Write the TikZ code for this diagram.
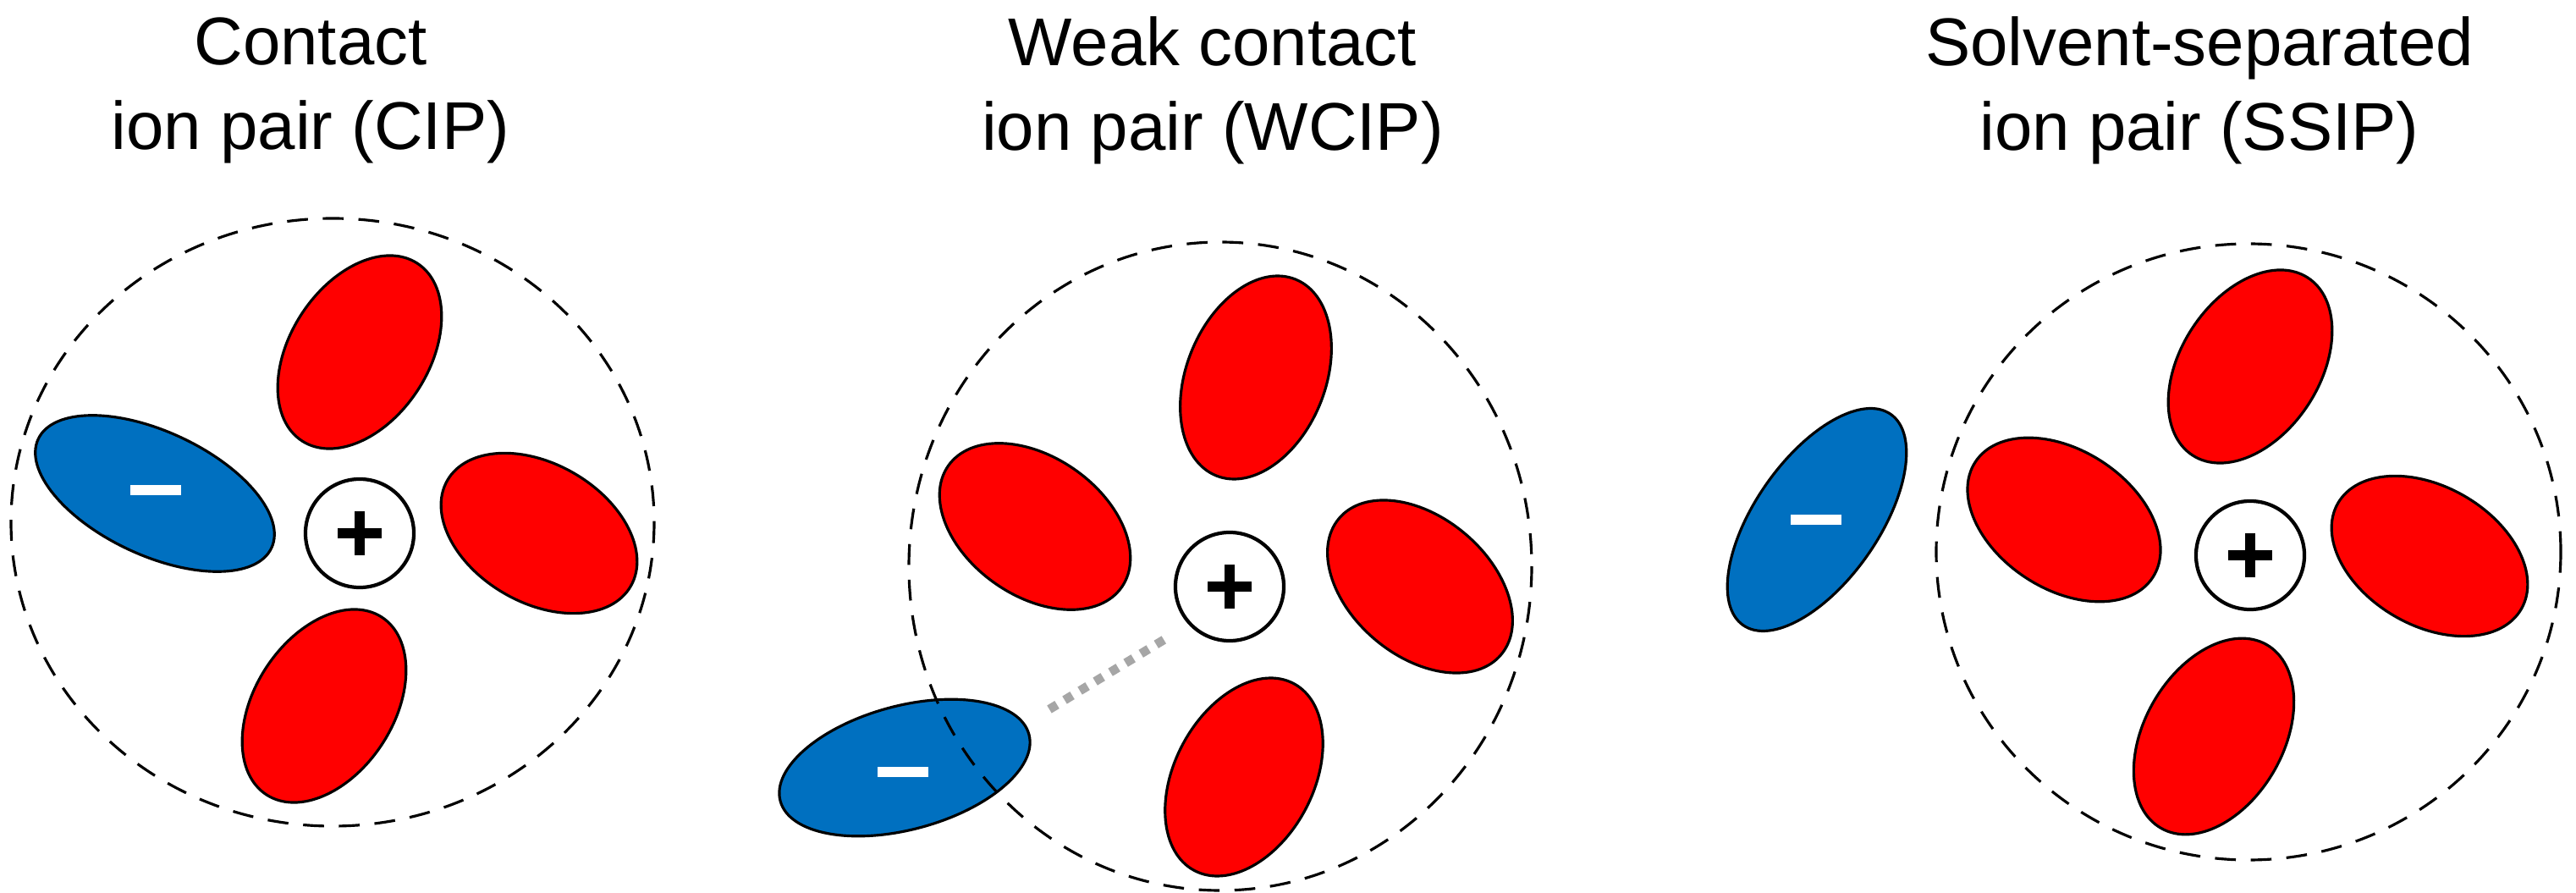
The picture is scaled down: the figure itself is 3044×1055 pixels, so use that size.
\documentclass[tikz,border=0pt]{standalone}
\usepackage{fontspec}
\setmainfont{Liberation Sans}
\usetikzlibrary{shapes.geometric}
\definecolor{solv}{HTML}{FF0000}
\definecolor{anion}{HTML}{0070C0}
\begin{document}
\begin{tikzpicture}[x=0.01cm,y=-0.01cm,
  solvent/.style={ellipse,draw=black,line width=0.9pt,fill=solv,minimum width=2.5cm,minimum height=1.64cm,inner sep=0pt},
  an/.style={ellipse,draw=black,line width=0.9pt,fill=anion,minimum width=3.04cm,minimum height=1.46cm,inner sep=0pt},
  shell/.style={dashed,dash pattern=on 7pt off 5pt,line width=0.9pt},
  cat/.style={circle,draw=black,line width=1.2pt,fill=white,minimum size=1.28cm,inner sep=0pt},
  plus/.style={line width=3.6pt},
  title/.style={align=center,font=\fontsize{22.7pt}{28.5pt}\selectfont},
  minus/.style={fill=white,draw=none,minimum width=0.6cm,minimum height=0.12cm,inner sep=0pt}]
\useasboundingbox (0,0) rectangle (3044,1055);
% Panel 1
\node[title] (t1) at (367,107) {Contact\\ion pair (CIP)};
\draw[shell] (393,617) ellipse [x radius=380, y radius=359];
\node[solvent,rotate=57] (s1a) at (425,416) {};
\node[solvent,rotate=-30] (s1b) at (637,630) {};
\node[solvent,rotate=57] (s1c) at (383,834) {};
\node[an,rotate=-25] (a1) at (183,583) {};
\node[minus] (m1) at (184,579) {};
\node[cat] (c1) at (425,630) {};
\draw[plus] (c1.center) +(-26,0) -- +(26,0) +(0,-26) -- +(0,26);
% Panel 2
\node[title] (t2) at (1433,107) {Weak contact\\ion pair (WCIP)};
\node[solvent,rotate=68] (s2a) at (1484,446) {};
\node[solvent,rotate=-35] (s2b) at (1223,622) {};
\node[solvent,rotate=-40] (s2c) at (1678,693) {};
\node[solvent,rotate=62] (s2d) at (1470,918) {};
\node[an,rotate=15] (a2) at (1069,907) {};
\node[minus] (m2) at (1067,912) {};
\draw[shell] (1442,669) ellipse [x radius=368, y radius=383];
\node[cat] (c2) at (1453,693) {};
\draw[plus] (c2.center) +(-26,0) -- +(26,0) +(0,-26) -- +(0,26);
\coordinate (d1) at (1240,838);
\coordinate (d2) at (1380,753);
\draw[gray!70,line width=3pt,dash pattern=on 3pt off 3pt] (d1) -- (d2);
% Panel 3
\node[title] (t3) at (2599,107) {Solvent-separated\\ion pair (SSIP)};
\draw[shell] (2657,652) ellipse [x radius=369, y radius=364];
\node[solvent,rotate=57] (s3a) at (2659,433) {};
\node[solvent,rotate=-33] (s3b) at (2439,614) {};
\node[solvent,rotate=-30] (s3c) at (2871,657) {};
\node[solvent,rotate=60] (s3d) at (2616,870) {};
\node[an,rotate=55] (a3) at (2147,614) {};
\node[minus] (m3) at (2146,614) {};
\node[cat] (c3) at (2659,656) {};
\draw[plus] (c3.center) +(-26,0) -- +(26,0) +(0,-26) -- +(0,26);
\end{tikzpicture}
\end{document}
